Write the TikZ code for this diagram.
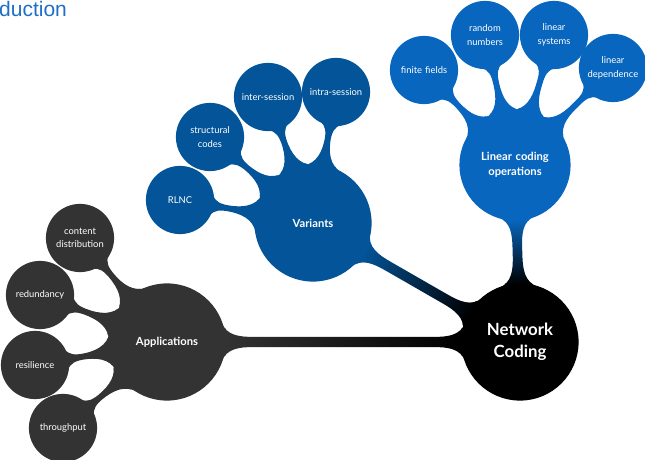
\documentclass[tikz,border=0pt]{standalone}
\usepackage{fontspec}
\setmainfont{Lato}
\newfontfamily\titlefont{Liberation Sans}
\usetikzlibrary{mindmap}
\definecolor{lcoblue}{RGB}{8,102,190}
\definecolor{varblue}{RGB}{3,84,152}
\definecolor{appgray}{RGB}{51,51,51}
\definecolor{titleblue}{RGB}{31,111,197}

\tikzset{
  topic/.style={concept, minimum size=116pt, text width=100pt, text=white, align=center,
    font=\bfseries\fontsize{11.2}{14.5}\selectfont},
  leaf/.style={concept, minimum size=67pt, text width=60pt, text=white, align=center,
    font=\fontsize{9.4}{13.5}\selectfont},
  mainbar/.style={line width=12pt},
  leafbar/.style={line width=7pt}
}

\begin{document}
\begin{tikzpicture}[x=1pt,y=1pt]
  \useasboundingbox (0,0) rectangle (645,460);
  \node[anchor=base west, text=titleblue, font=\titlefont\fontsize{21}{24}\selectfont, inner sep=0pt] (title) at (-1,443) {duction};

  \begin{scope}[mindmap]
    \node[topic, concept color=black, minimum size=116pt, font=\bfseries\fontsize{16.8}{21.5}\selectfont] (nc) at (520,118) {Network\\Coding};
    \node[topic, concept color=lcoblue, minimum size=110pt] (lco) at (515,295) {Linear coding\\operations};
    \node[topic, concept color=varblue] (var) at (313,237) {Variants};
    \node[topic, concept color=appgray] (app) at (167,118) {Applications};

    % linear coding operations
    \node[leaf, concept color=lcoblue] (ff) at (424,390) {finite fields};
    \node[leaf, concept color=lcoblue] (rn) at (485,425) {random\\numbers};
    \node[leaf, concept color=lcoblue] (ls) at (554,425) {linear\\systems};
    \node[leaf, concept color=lcoblue] (ld) at (613,392) {linear\\dependence};
    % variants
    \node[leaf, concept color=varblue] (rlnc) at (180,260) {RLNC};
    \node[leaf, concept color=varblue] (sc) at (210,323) {structural\\codes};
    \node[leaf, concept color=varblue] (inter) at (268,363) {inter-session};
    \node[leaf, concept color=varblue] (intra) at (336,368) {intra-session};
    % applications
    \node[leaf, concept color=appgray] (cd) at (80,222) {content\\distribution};
    \node[leaf, concept color=appgray] (red) at (40,165) {redundancy};
    \node[leaf, concept color=appgray] (res) at (35,95) {resilience};
    \node[leaf, concept color=appgray] (thr) at (63,32) {throughput};

    \path[mainbar] (nc) to[circle connection bar switch color=from (black) to (lcoblue)] (lco);
    \path[mainbar] (nc) to[circle connection bar switch color=from (black) to (varblue)] (var);
    \path[mainbar] (nc) to[circle connection bar switch color=from (black) to (appgray)] (app);

    \path[leafbar] (lco) to[circle connection bar switch color=from (lcoblue) to (lcoblue)] (ff);
    \path[leafbar] (lco) to[circle connection bar switch color=from (lcoblue) to (lcoblue)] (rn);
    \path[leafbar] (lco) to[circle connection bar switch color=from (lcoblue) to (lcoblue)] (ls);
    \path[leafbar] (lco) to[circle connection bar switch color=from (lcoblue) to (lcoblue)] (ld);

    \path[leafbar] (var) to[circle connection bar switch color=from (varblue) to (varblue)] (rlnc);
    \path[leafbar] (var) to[circle connection bar switch color=from (varblue) to (varblue)] (sc);
    \path[leafbar] (var) to[circle connection bar switch color=from (varblue) to (varblue)] (inter);
    \path[leafbar] (var) to[circle connection bar switch color=from (varblue) to (varblue)] (intra);

    \path[leafbar] (app) to[circle connection bar switch color=from (appgray) to (appgray)] (cd);
    \path[leafbar] (app) to[circle connection bar switch color=from (appgray) to (appgray)] (red);
    \path[leafbar] (app) to[circle connection bar switch color=from (appgray) to (appgray)] (res);
    \path[leafbar] (app) to[circle connection bar switch color=from (appgray) to (appgray)] (thr);
  \end{scope}
\end{tikzpicture}
\end{document}
